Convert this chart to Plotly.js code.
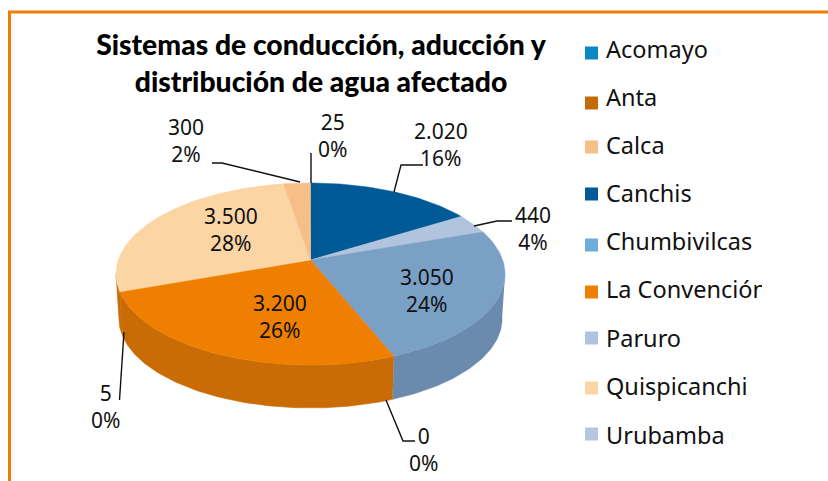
<!DOCTYPE html>
<html><head><meta charset="utf-8">
<script src="https://cdn.plot.ly/plotly-3.0.1.min.js"></script>
<style>html,body{margin:0;padding:0;background:#fff}#c{width:828px;height:481px}</style>
</head><body><div id="c"></div>
<script>
// ---- data ----
const titleText = 'Sistemas de conducción, aducción y<br>distribución de agua afectado';
const legendNames = ['Acomayo','Anta','Calca','Canchis','Chumbivilcas','La Convención','Paruro','Quispicanchi','Urubamba'];
const legendColors = ['#0B87C3','#C46A06','#F6BF87','#005A96','#6BAEDB','#EF7F00','#AEC3DF','#FCD5A5','#B5C7E0'];
const legendSwatchY = [53,103,147,194,245,292,338,388,434];
const legendTextY = [52.5,100.5,148.5,196.5,244.5,292.5,341.5,389.5,438.5];
// slices in drawing order, clockwise from 12 o'clock
const sliceNames  = ['Canchis','Urubamba','Chumbivilcas','Paruro','La Convención','Acomayo','Quispicanchi','Calca','Anta'];
const sliceValues = [2020,440,3050,0,3200,5,3500,300,25];
const sliceLabels = ['2.020','440','3.050','0','3.200','5','3.500','300','25'];
const slicePercents = ['16%','4%','24%','0%','26%','0%','28%','2%','0%'];
const topColors  = ['#005A96','#B0C4DE','#7BA0C6','#AEC3DF','#EF7F00','#EF7F00','#FCD5A5','#F6BF87','#F6BF87'];
const sideColors = ['#004A7C','#92A3B8','#6A8BAD','#90A2B8','#C96C06','#C96C06','#C96C06','#CC9E70','#A25805'];
// label placement (pixel axes)
const labelX = [441,533,427,423,280,105,231,186,332];
const labelY = [144,228,290,449,316.5,406,229,140.5,135];
// leader lines: rim -> elbow -> end
const leaders = [
  [[394,192],[401,165],[423,165]],
  [[474,226],[497,221],[512,221]],
  null,
  [[386,400],[403,441],[415,441]],
  null,
  [[124,332],[119.5,400]],
  null,
  [[300,182],[222,163],[212,163]],
  [[311,183],[311,153]]
];

// ---- projection of the tilted disc ----
const CX=310.5, CY=260, A=192.2, B=88.9, K=0.154, DEPTH=45, SY=0.98, SX=0.985;
function rimTop(t){const r=t*Math.PI/180,u=Math.sin(r),v=Math.cos(r),d=1+K*v;return [CX+A*u/d,CY-B*v/d];}
function rimBot(t){const p=rimTop(t);return [CX+(p[0]-CX)*SX,CY+DEPTH+(p[1]-CY)*SY];}
const total = sliceValues.reduce((a,b)=>a+b,0);
const SIL_R = Math.acos(-K)*180/Math.PI, SIL_L = 360-SIL_R;
function angles(a,b){const out=[],n=Math.max(2,Math.ceil(b-a));for(let i=0;i<=n;i++)out.push(a+(b-a)*i/n);return out;}

const traces=[]; let cum=0; const spans=[];
sliceValues.forEach(v=>{spans.push([cum,cum+v/total*360]);cum+=v/total*360;});
// side walls first
spans.forEach((s,i)=>{
  const a=Math.max(s[0],SIL_R), b=Math.min(s[1],SIL_L);
  if(b<=a) return;
  const ts=angles(a,b), up=ts.map(rimTop), lo=ts.slice().reverse().map(rimBot), pts=up.concat(lo);
  traces.push({type:'scatter',mode:'lines',fill:'toself',fillcolor:sideColors[i],line:{color:sideColors[i],width:0.5},
    x:pts.map(p=>p[0]),y:pts.map(p=>p[1]),showlegend:false,hoverinfo:'name',name:sliceNames[i]});
});
// top faces
spans.forEach((s,i)=>{
  if(s[1]<=s[0]) return;
  const pts=[[CX,CY]].concat(angles(s[0],s[1]).map(rimTop),[[CX,CY]]);
  traces.push({type:'scatter',mode:'lines',fill:'toself',fillcolor:topColors[i],line:{color:topColors[i],width:0.5},
    x:pts.map(p=>p[0]),y:pts.map(p=>p[1]),showlegend:false,hoverinfo:'name',name:sliceNames[i]});
});
// leader lines
leaders.forEach(l=>{ if(!l) return;
  traces.push({type:'scatter',mode:'lines',line:{color:'#111',width:1.4},x:l.map(p=>p[0]),y:l.map(p=>p[1]),showlegend:false,hoverinfo:'skip'});
});
// legend: swatch + text on a second axis that ends at the clip edge of the original
const FONT='"Noto Sans", sans-serif';
legendNames.forEach((n,i)=>{
  traces.push({type:'scatter',mode:'markers',xaxis:'x2',yaxis:'y',x:[591.5],y:[legendSwatchY[i]],
    marker:{symbol:'square',size:13,color:legendColors[i]},showlegend:false,name:n,hoverinfo:'name'});
  traces.push({type:'scatter',mode:'text',xaxis:'x2',yaxis:'y',x:[606],y:[legendTextY[i]],
    text:[n],textposition:'middle right',textfont:{family:FONT,size:23.5,color:'#111'},
    cliponaxis:true,showlegend:false,name:n,hoverinfo:'name'});
});
const annotations = sliceLabels.map((l,i)=>({xref:'x',yref:'y',x:labelX[i],y:labelY[i],text:l+'<br>'+slicePercents[i],
  showarrow:false,align:'center',xanchor:'center',yanchor:'middle',font:{family:FONT,size:21,color:'#111'}}));
const layout={
  width:828,height:481,margin:{l:0,r:0,t:0,b:0},paper_bgcolor:'#fff',plot_bgcolor:'rgba(0,0,0,0)',showlegend:false,
  title:{text:titleText,x:321/828,xanchor:'center',y:1-55/481,yanchor:'middle',font:{family:'Lato, sans-serif',size:28.3,color:'#000',weight:900}},
  xaxis:{range:[0,828],visible:false,domain:[0,1],fixedrange:true},
  xaxis2:{range:[0,762],visible:false,domain:[0,762/828],anchor:'y',fixedrange:true},
  yaxis:{range:[481,0],visible:false,domain:[0,1],fixedrange:true},
  annotations,
  shapes:[
    {type:'line',xref:'x',yref:'y',x0:8,x1:828,y0:12,y1:12,line:{color:'#EF7F00',width:3}},
    {type:'line',xref:'x',yref:'y',x0:9.5,x1:9.5,y0:11,y1:481,line:{color:'#EF7F00',width:3}}
  ]
};
Plotly.newPlot('c',traces,layout,{displayModeBar:false,staticPlot:true});
</script></body></html>
